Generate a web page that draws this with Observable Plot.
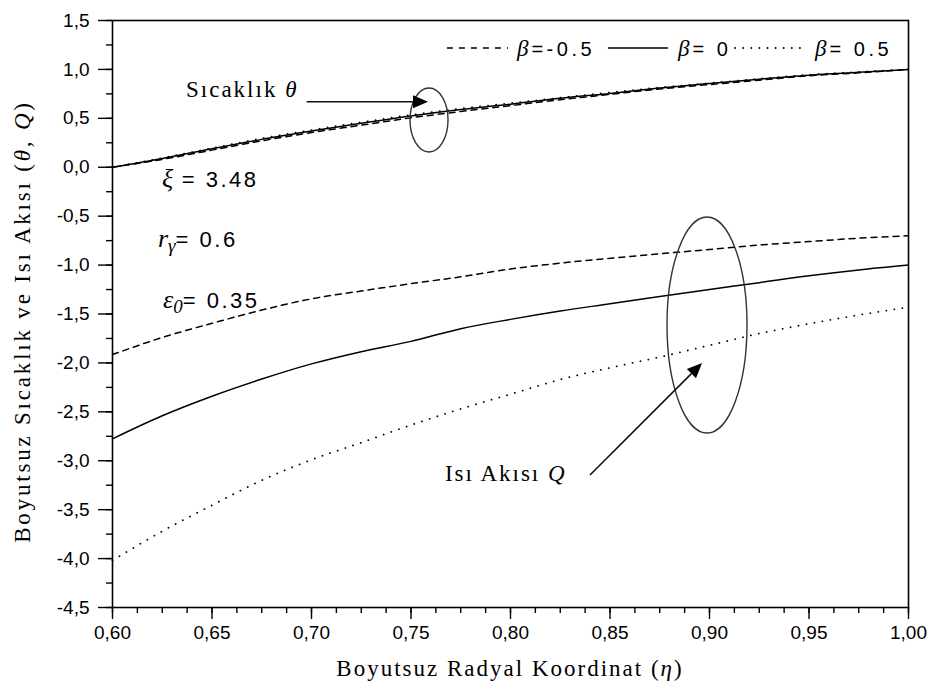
<!DOCTYPE html>
<html>
<head>
<meta charset="utf-8">
<script src="https://cdn.jsdelivr.net/npm/d3@7"></script>
<script src="https://cdn.jsdelivr.net/npm/@observablehq/plot@0.6"></script>
<style>
  body { margin: 0; background: #fff; }
  #chart svg { display: block; }
</style>
</head>
<body>
<div id="chart"></div>
<script>
// Dimensionless radial coordinate η
const eta = [0.600, 0.625, 0.650, 0.675, 0.700, 0.725, 0.750, 0.775, 0.800,
             0.825, 0.850, 0.875, 0.900, 0.925, 0.950, 0.975, 1.000];

// Dimensionless temperature θ for β = -0.5, 0, 0.5
const thetaBetaNeg  = [0, 0.080, 0.175, 0.270, 0.355, 0.430, 0.505, 0.570, 0.630,
                       0.690, 0.745, 0.800, 0.845, 0.890, 0.935, 0.965, 1.000];
const thetaBetaZero = [0, 0.090, 0.190, 0.285, 0.370, 0.450, 0.525, 0.590, 0.645,
                       0.705, 0.755, 0.810, 0.855, 0.900, 0.940, 0.970, 1.000];
const thetaBetaPos  = [0, 0.095, 0.195, 0.295, 0.380, 0.460, 0.535, 0.600, 0.655,
                       0.710, 0.765, 0.815, 0.860, 0.905, 0.945, 0.975, 1.000];

// Dimensionless heat flux Q for β = -0.5, 0, 0.5
const fluxBetaNeg  = [-1.915, -1.740, -1.595, -1.460, -1.345, -1.265, -1.190, -1.120, -1.040,
                      -0.980, -0.930, -0.885, -0.840, -0.795, -0.760, -0.725, -0.700];
const fluxBetaZero = [-2.776, -2.540, -2.340, -2.165, -2.010, -1.885, -1.780, -1.650, -1.555,
                      -1.470, -1.395, -1.320, -1.250, -1.180, -1.110, -1.050, -1.000];
const fluxBetaPos  = [-4.020, -3.720, -3.455, -3.200, -2.990, -2.815, -2.635, -2.470, -2.320,
                      -2.170, -2.050, -1.940, -1.820, -1.700, -1.600, -1.510, -1.430];

// Axis ticks
const xTicks = [0.60, 0.65, 0.70, 0.75, 0.80, 0.85, 0.90, 0.95, 1.00];
const yTicks = [-4.5, -4.0, -3.5, -3.0, -2.5, -2.0, -1.5, -1.0, -0.5, 0.0, 0.5, 1.0, 1.5];
const xMinorTicks = d3.range(0, 33).map(i => 0.6 + i * 0.0125);
const yMinorTicks = d3.range(0, 25).map(i => -4.5 + i * 0.25);

// Legend entries
const betaLabels = ["=-0.5", "= 0", "= 0.5"];

// Parameter notes
const paramNotes = [
  {sym: "ξ", sub: "", val: " = 3.48", x: 0.6251, y: -0.207},
  {sym: "r", sub: "γ", val: "= 0.6", x: 0.6231, y: -0.820},
  {sym: "ε", sub: "0", val: "= 0.35", x: 0.6256, y: -1.444}
];

const series = (key, values) => eta.map((e, i) => ({key, eta: e, value: values[i]}));

const NS = "http://www.w3.org/2000/svg";
function mk(name, attrs = {}, text) {
  const n = document.createElementNS(NS, name);
  for (const [k, v] of Object.entries(attrs)) n.setAttribute(k, v);
  if (text != null) n.textContent = text;
  return n;
}

const SERIF = "'Liberation Serif', 'Times New Roman', serif";
const SANS = "'Liberation Sans', Arial, sans-serif";

// Annotation layer: legend, parameters, ellipses, arrows, axis titles
function annotations(index, scales, values, dims) {
  const {x, y} = scales;
  const g = mk("g", {fill: "#000", "text-anchor": "start"});

  // axis titles
  const xt = mk("text", {x: (dims.marginLeft + dims.width - dims.marginRight) / 2, y: 676,
    "text-anchor": "middle", "font-family": SERIF, "font-size": 23, "letter-spacing": 2});
  xt.append(mk("tspan", {}, "Boyutsuz Radyal Koordinat ("));
  xt.append(mk("tspan", {"font-style": "italic"}, "η"));
  xt.append(mk("tspan", {}, ")"));
  g.append(xt);

  const yt = mk("text", {transform: `translate(30,${(dims.marginTop + dims.height - dims.marginBottom) / 2 + 8}) rotate(-90)`,
    "text-anchor": "middle", "font-family": SERIF, "font-size": 23, "letter-spacing": 2.8});
  yt.append(mk("tspan", {}, "Boyutsuz Sıcaklık ve Isı Akısı ("));
  yt.append(mk("tspan", {"font-style": "italic"}, "θ, Q"));
  yt.append(mk("tspan", {}, ")"));
  g.append(yt);

  // legend
  const ly = 1.214;
  const legendSamples = [
    {x1: 0.7683, x2: 0.7990, dash: "6,6", cap: "butt", tx: 0.8035},
    {x1: 0.8492, x2: 0.8794, dash: null, cap: "butt", tx: 0.8844},
    {x1: 0.9131, x2: 0.9492, dash: "0.1,8", cap: "round", tx: 0.9533}
  ];
  legendSamples.forEach((s, i) => {
    const line = mk("line", {x1: x(s.x1), x2: x(s.x2), y1: y(ly), y2: y(ly), stroke: "#000",
      "stroke-width": s.cap === "round" ? 1.8 : 1.4, "stroke-linecap": s.cap});
    if (s.dash) line.setAttribute("stroke-dasharray", s.dash);
    g.append(line);
    const t = mk("text", {x: x(s.tx), y: y(ly) + 8, "text-anchor": "start"});
    t.append(mk("tspan", {"font-family": SERIF, "font-style": "italic", "font-size": 23}, "β"));
    t.append(mk("tspan", {"font-family": SANS, "font-size": 20, "letter-spacing": 3.5, dx: 3}, betaLabels[i]));
    g.append(t);
  });

  // parameters
  for (const p of paramNotes) {
    const t = mk("text", {x: x(p.x), y: y(p.y), "text-anchor": "start"});
    t.append(mk("tspan", {"font-family": SERIF, "font-style": "italic", "font-size": 26}, p.sym));
    if (p.sub) {
      t.append(mk("tspan", {"font-family": SERIF, "font-style": "italic", "font-size": 19, dy: 5}, p.sub));
      t.append(mk("tspan", {"font-family": SANS, "font-size": 22, "letter-spacing": 2.5, dy: -5}, p.val));
    } else {
      t.append(mk("tspan", {"font-family": SANS, "font-size": 22, "letter-spacing": 2.5}, p.val));
    }
    g.append(t);
  }

  // curve group labels
  const t1 = mk("text", {x: x(0.6372), y: y(0.713), "text-anchor": "start",
    "font-family": SERIF, "font-size": 23, "letter-spacing": 2});
  t1.append(mk("tspan", {}, "Sıcaklık "));
  t1.append(mk("tspan", {"font-style": "italic"}, "θ"));
  g.append(t1);

  const t2 = mk("text", {x: x(0.7673), y: y(-3.212), "text-anchor": "start",
    "font-family": SERIF, "font-size": 23, "letter-spacing": 2});
  t2.append(mk("tspan", {}, "Isı Akısı "));
  t2.append(mk("tspan", {"font-style": "italic"}, "Q"));
  g.append(t2);

  // ellipses around curve groups
  const ellipses = [
    {cx: 0.7593, cy: 0.478, rx: 0.00955, ry: 0.327},
    {cx: 0.8990, cy: -1.618, rx: 0.0201, ry: 1.104}
  ];
  for (const e of ellipses) {
    g.append(mk("ellipse", {cx: x(e.cx), cy: y(e.cy), rx: x(e.cx + e.rx) - x(e.cx), ry: y(e.cy - e.ry) - y(e.cy),
      fill: "none", stroke: "#333", "stroke-width": 1.4}));
  }

  // arrows with filled heads
  const arrows = [
    {x1: 0.6978, y1: 0.665, x2: 0.7588, y2: 0.665},
    {x1: 0.8402, y1: -3.151, x2: 0.8965, y2: -2.006}
  ];
  for (const a of arrows) {
    const X1 = x(a.x1), Y1 = y(a.y1), X2 = x(a.x2), Y2 = y(a.y2);
    const ang = Math.atan2(Y2 - Y1, X2 - X1);
    const L = 15, W = 6.5;
    const bx = X2 - L * Math.cos(ang), by = Y2 - L * Math.sin(ang);
    g.append(mk("line", {x1: X1, y1: Y1, x2: bx, y2: by, stroke: "#111", "stroke-width": 1.6}));
    const p1 = [bx + W * Math.sin(ang), by - W * Math.cos(ang)];
    const p2 = [bx - W * Math.sin(ang), by + W * Math.cos(ang)];
    g.append(mk("polygon", {points: `${X2},${Y2} ${p1.join(",")} ${p2.join(",")}`, fill: "#000"}));
  }
  return g;
}

const fmtX = d => d.toFixed(2).replace(".", ",");
const fmtY = d => d.toFixed(1).replace(".", ",");

const lineOpts = {x: "eta", y: "value", stroke: "#000", strokeWidth: 1.5, curve: "monotone-x"};

const chart = Plot.plot({
  width: 939,
  height: 694,
  marginLeft: 112,
  marginRight: 31,
  marginTop: 20,
  marginBottom: 87,
  style: {fontFamily: SANS, fontSize: "20px", color: "#000", background: "#fff"},
  x: {domain: [0.6, 1.0]},
  y: {domain: [-4.5, 1.5]},
  marks: [
    Plot.axisX(xMinorTicks, {tickSize: 6, tickFormat: () => "", strokeWidth: 1.4, label: null}),
    Plot.axisX(xTicks, {tickSize: 12, tickPadding: 6, tickFormat: fmtX, strokeWidth: 1.4, label: null,
      fontSize: 19, letterSpacing: 1.5}),
    Plot.axisY(yMinorTicks, {tickSize: 6, tickFormat: () => "", strokeWidth: 1.4, label: null}),
    Plot.axisY(yTicks, {tickSize: 14, tickPadding: 9, tickFormat: fmtY, strokeWidth: 1.4, label: null,
      fontSize: 19, letterSpacing: 1.5}),
    Plot.frame({stroke: "#000", strokeWidth: 1.6}),
    Plot.line(series("θ β=-0.5", thetaBetaNeg), {...lineOpts, strokeDasharray: "6,5"}),
    Plot.line(series("θ β=0", thetaBetaZero), lineOpts),
    Plot.line(series("θ β=0.5", thetaBetaPos), {...lineOpts, strokeWidth: 1.8, strokeDasharray: "0.1,8", strokeLinecap: "round"}),
    Plot.line(series("Q β=-0.5", fluxBetaNeg), {...lineOpts, strokeDasharray: "6,5"}),
    Plot.line(series("Q β=0", fluxBetaZero), lineOpts),
    Plot.line(series("Q β=0.5", fluxBetaPos), {...lineOpts, strokeWidth: 1.8, strokeDasharray: "0.1,8", strokeLinecap: "round"}),
    annotations
  ]
});

document.getElementById("chart").append(chart);
</script>
</body>
</html>
